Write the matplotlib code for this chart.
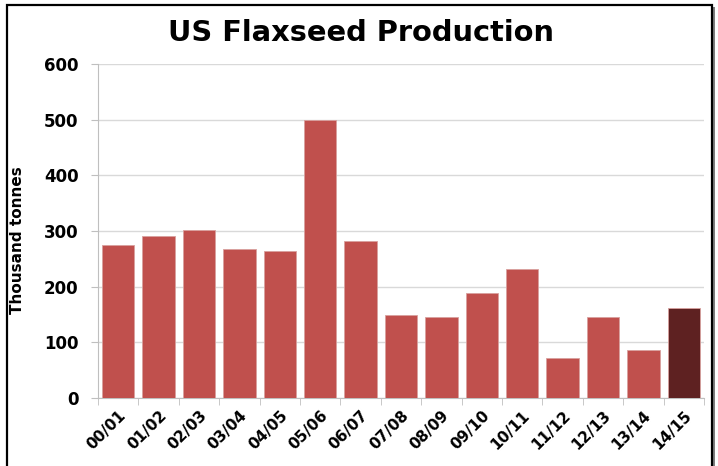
import matplotlib
matplotlib.use("Agg")
import matplotlib.pyplot as plt
from matplotlib.patches import Rectangle
import numpy as np

categories = ["00/01", "01/02", "02/03", "03/04", "04/05", "05/06", "06/07", "07/08",
              "08/09", "09/10", "10/11", "11/12", "12/13", "13/14", "14/15"]
values = [275, 291, 302, 268, 264, 500, 282, 149, 145, 189, 232, 72, 145, 86, 162]
highlight = "14/15"
yticks = [0, 100, 200, 300, 400, 500, 600]

plt.rcParams['font.family'] = ['DejaVu Sans']

fig = plt.figure(figsize=(7.18, 4.66), dpi=100)
# frame: shadow on the right, open at the bottom (cut off)
fig.patches.append(Rectangle((9/718, -0.05), 706/718, 1.05 - 7/466, transform=fig.transFigure,
                             facecolor="#7F7F7F", edgecolor="none", zorder=-2))
fig.patches.append(Rectangle((7/718, -0.05), 705/718, 1.05 - 5/466, transform=fig.transFigure,
                             facecolor="white", edgecolor="black", linewidth=1.6, zorder=-1))

ax = fig.add_axes([98/718, 1 - 398/466, 606/718, 334/466])
x = np.arange(len(categories))
colors = ["#5E2121" if c == highlight else "#C0504D" for c in categories]
ax.bar(x, values, width=0.8, color=colors, edgecolor="#D9A09E", linewidth=0.6, zorder=3)

ax.set_xlim(-0.5, len(categories) - 0.5)
ax.set_ylim(0, 600)
ax.set_yticks(yticks)
ax.set_yticklabels([str(v) for v in yticks], fontsize=12, fontweight='bold')
ax.yaxis.grid(True, color="#D9D9D9", linewidth=1, zorder=0)
ax.set_axisbelow(True)

ax.set_xticks(x)
ax.set_xticklabels(categories, rotation=45, ha='right', rotation_mode='anchor',
                   fontsize=11, fontweight='bold')
ax.tick_params(axis='x', length=0, pad=7)
ax.set_xticks(np.arange(-0.5, len(categories), 1), minor=True)
ax.tick_params(axis='x', which='minor', length=5, color="#BFBFBF", direction='out')
ax.tick_params(axis='y', length=5, color="#BFBFBF", direction='out', pad=9)

for s in ["top", "right"]:
    ax.spines[s].set_visible(False)
ax.spines["left"].set_color("#BFBFBF")
ax.spines["bottom"].set_color("#BFBFBF")

fig.text(18/718, 1 - 240/466, "Thousand tonnes", ha='center', va='center', rotation=90,
         fontsize=11, fontweight='bold')
fig.text(361/718, 1 - 33/466, "US Flaxseed Production", ha='center', va='center',
         fontsize=20.8, fontweight='bold')

fig.savefig("out.png", dpi=100)
